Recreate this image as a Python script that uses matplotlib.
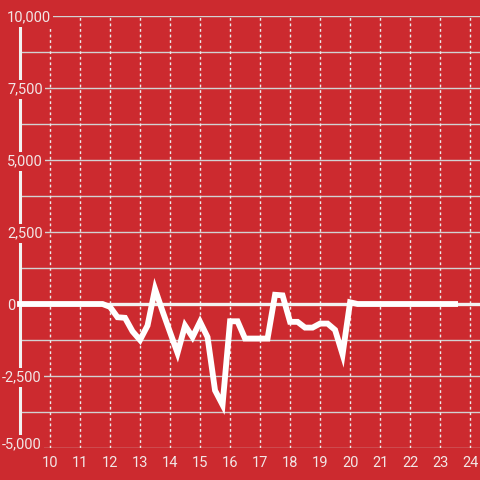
import matplotlib
matplotlib.use("Agg")
import matplotlib.pyplot as plt
import matplotlib.transforms as mtransforms
import numpy as np

# ---- data ----
hours = [9.0, 9.25, 9.5, 9.75, 10.0, 10.25, 10.5, 10.75, 11.0, 11.25, 11.5, 11.75,
         12.0, 12.25, 12.5, 12.75, 13.0, 13.25, 13.5, 13.75, 14.0, 14.25, 14.5, 14.75,
         15.0, 15.25, 15.5, 15.75, 16.0, 16.25, 16.5, 16.75, 17.0, 17.25, 17.5, 17.75,
         18.0, 18.25, 18.5, 18.75, 19.0, 19.25, 19.5, 19.75, 20.0, 20.25, 20.5, 20.75,
         21.0, 21.25, 21.5, 21.75, 22.0, 22.25, 22.5, 22.75, 23.0, 23.25, 23.5]
values = [0, 0, 0, 0, 0, 0, 0, 0, 0, 0, 0, 0,
          -100, -460, -480, -950, -1250, -750, 520, -250, -980, -1700, -750, -1150,
          -620, -1150, -3000, -3500, -600, -600, -1200, -1200, -1200, -1200, 320, 300,
          -620, -620, -820, -820, -680, -680, -900, -1750, 60, 0, 0, 0,
          0, 0, 0, 0, 0, 0, 0, 0, 0, 0, 0]
x_ticks = [10, 11, 12, 13, 14, 15, 16, 17, 18, 19, 20, 21, 22, 23, 24]
y_grid = [-5000, -3750, -2500, -1250, 0, 1250, 2500, 3750, 5000, 6250, 7500, 8750, 10000]
y_label_vals = [10000, 7500, 5000, 2500, 0, -2500, -5000]
y_label_txt = ["10,000", "7,500", "5,000", "2,500", "0", "-2,500", "-5,000"]

BG = "#cc2a2f"
TXT = "#f2e6e6"

plt.rcParams['font.family'] = ['Roboto', 'DejaVu Sans']

fig = plt.figure(figsize=(4.8, 4.8), dpi=100, facecolor=BG)
ax = fig.add_axes([20/480, 32/480, 460/480, 432/480])
ax.set_facecolor(BG)
ax.set_xlim(9.0, 24.33)
ax.set_ylim(-5000, 10000)

for s in ax.spines.values():
    s.set_visible(False)

ax.set_xticks(x_ticks)
ax.set_xticklabels([str(t) for t in x_ticks])
ax.set_yticks(y_grid)
ax.set_yticklabels([])
ax.tick_params(axis='both', length=0)
ax.tick_params(axis='x', colors=TXT, labelsize=10.5, pad=5.5)

# grid
for yv in y_grid:
    ax.axhline(yv, color="#d2d2d2", lw=1.0, zorder=1)
for xv in x_ticks:
    ax.axvline(xv, color="#ececec", lw=1.0, dashes=(2, 2), zorder=1)

# zero line
ax.axhline(0, color="#f2f2f2", lw=2.4, zorder=2)
# left axis line
ax.axvline(9.0, color="#f2f2f2", lw=2.2, zorder=2, clip_on=False)

# y labels
trans = mtransforms.blended_transform_factory(fig.transFigure, ax.transData)
for v, t in zip(y_label_vals, y_label_txt):
    xpos = (7 if v >= 0 else 2) / 480
    va = 'baseline' if v == -5000 else 'center_baseline'
    ax.text(xpos, v, t, transform=trans, ha='left', va=va, color=TXT,
            fontsize=10.5, zorder=3,
            bbox=dict(boxstyle='square,pad=0.15', fc=BG, ec='none'))

# data line
ax.plot(hours, values, color="white", lw=4.2, zorder=5, clip_on=False,
        solid_capstyle='projecting', solid_joinstyle='miter')

fig.savefig("out.png", dpi=100, facecolor=BG)
